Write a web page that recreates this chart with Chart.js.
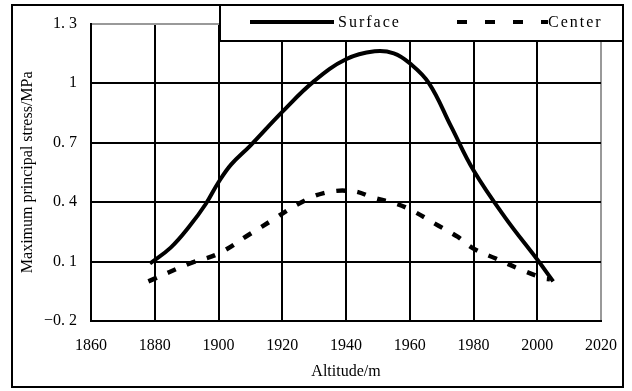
<!DOCTYPE html>
<html>
<head>
<meta charset="utf-8">
<script src="https://cdn.jsdelivr.net/npm/chart.js@4/dist/chart.umd.min.js"></script>
<style>
  body { margin: 0; background: #fff; }
  canvas { display: block; }
</style>
</head>
<body>
<canvas id="graficoTensao" width="632" height="391"></canvas>
<script>
// Altitude (m) and maximum principal stress (MPa)
const surfaceAlt    = [1878.5, 1885, 1891, 1896, 1900, 1904, 1910, 1920, 1930, 1940, 1949, 1955, 1960, 1966, 1973, 1980, 1990, 2000, 2005];
const surfaceStress = [0.09, 0.17, 0.28, 0.39, 0.50, 0.59, 0.685, 0.855, 1.01, 1.12, 1.16, 1.15, 1.10, 1.00, 0.78, 0.56, 0.32, 0.11, 0.00];
const centerAlt     = [1878, 1891, 1900, 1910, 1917, 1925, 1933, 1942, 1949, 1956, 1961, 1968, 1975, 1980, 1987, 1994, 2002, 2004];
const centerStress  = [0.00, 0.09, 0.14, 0.24, 0.31, 0.39, 0.445, 0.455, 0.42, 0.39, 0.355, 0.29, 0.225, 0.165, 0.115, 0.065, 0.015, 0.01];

const seriesNames = ['Surface', 'Center'];
const yTickValues = [-0.2, 0.1, 0.4, 0.7, 1, 1.3];
const yTickLabels = ['\u22120. 2', '0. 1', '0. 4', '0. 7', '1', '1. 3'];

const FONT = '"Liberation Serif", "DejaVu Serif", serif';

const toPoints = (xs, ys) => xs.map((x, i) => ({ x: x, y: ys[i] }));

// outer frame + legend box sitting on top of the plot
const moldura = {
    id: 'moldura',
    afterDraw(chart) {
        const ctx = chart.ctx;
        ctx.save();
        // legend box
        ctx.fillStyle = '#fff';
        ctx.fillRect(220, 5, 403, 36);
        ctx.strokeStyle = '#000';
        ctx.lineWidth = 2;
        ctx.strokeRect(220, 5, 403, 36);

        ctx.lineWidth = 4;
        ctx.beginPath();
        ctx.moveTo(250, 22);
        ctx.lineTo(334, 22);
        ctx.stroke();

        ctx.setLineDash([10, 18]);
        ctx.beginPath();
        ctx.moveTo(457, 22);
        ctx.lineTo(548, 22);
        ctx.stroke();
        ctx.setLineDash([]);

        ctx.fillStyle = '#000';
        ctx.font = '16px ' + FONT;
        ctx.textBaseline = 'middle';
        ctx.letterSpacing = '2px';
        ctx.fillText(seriesNames[0], 338, 23);
        ctx.fillText(seriesNames[1], 548, 23);
        ctx.letterSpacing = '0px';

        // outer frame
        ctx.lineWidth = 2;
        ctx.strokeRect(12, 5, 611, 382);
        ctx.restore();
    }
};

const ctxTensao = document.getElementById('graficoTensao').getContext('2d');
const graficoTensao = new Chart(ctxTensao, {
    type: 'line',
    data: {
        datasets: [{
            label: seriesNames[0],
            data: toPoints(surfaceAlt, surfaceStress),
            borderColor: '#000',
            borderWidth: 4,
            pointRadius: 0,
            tension: 0.4,
            fill: false
        }, {
            label: seriesNames[1],
            data: toPoints(centerAlt, centerStress),
            borderColor: '#000',
            borderWidth: 4.5,
            borderDash: [9, 12],
            pointRadius: 0,
            tension: 0.4,
            fill: false
        }]
    },
    options: {
        responsive: false,
        animation: false,
        layout: { padding: { left: 0, right: 25, top: 22, bottom: 0 } },
        plugins: {
            legend: { display: false },
            tooltip: { enabled: false }
        },
        scales: {
            x: {
                type: 'linear',
                min: 1860,
                max: 2020,
                ticks: {
                    stepSize: 20,
                    padding: 15,
                    color: '#000',
                    font: { family: FONT, size: 16 },
                    callback: value => String(value)
                },
                grid: {
                    drawTicks: false,
                    lineWidth: 2,
                    color: c => c.tick && c.tick.value === 2020 ? '#999' : '#000'
                },
                border: { color: '#000', width: 2 },
                title: {
                    display: true,
                    text: 'Altitude/m',
                    color: '#000',
                    font: { family: FONT, size: 16 },
                    padding: { top: 0, bottom: 10 }
                },
                afterFit: axis => { axis.height = 70; }
            },
            y: {
                min: -0.2,
                max: 1.3,
                afterBuildTicks: axis => {
                    axis.ticks = yTickValues.map(v => ({ value: v }));
                },
                ticks: {
                    padding: 14,
                    color: '#000',
                    font: { family: FONT, size: 16 },
                    callback: (value, index) => yTickLabels[index]
                },
                grid: {
                    drawTicks: false,
                    lineWidth: 2,
                    color: c => c.tick && c.tick.value === 1.3 ? '#999' : '#000'
                },
                border: { color: '#000', width: 2 },
                title: {
                    display: true,
                    text: 'Maximum principal stress/MPa',
                    color: '#000',
                    font: { family: FONT, size: 16 },
                    padding: { top: 18, bottom: 0 }
                },
                afterFit: axis => { axis.width = 91; }
            }
        }
    },
    plugins: [moldura]
});
</script>
</body>
</html>
